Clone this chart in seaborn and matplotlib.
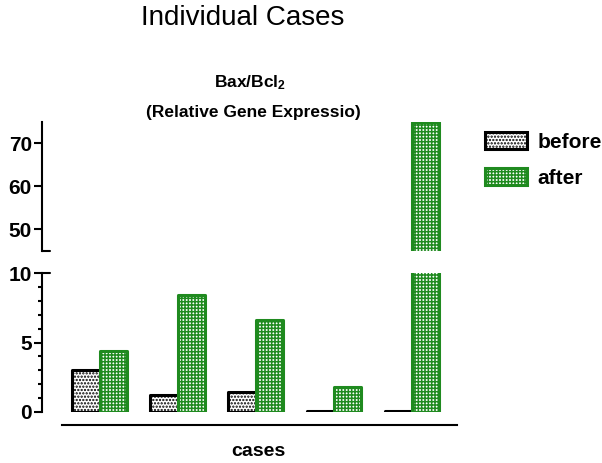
import pandas as pd
import seaborn as sns
import matplotlib.pyplot as plt
from matplotlib.patches import Patch
from matplotlib.ticker import MultipleLocator, FixedLocator

# %% data
cases = ['case 1', 'case 2', 'case 3', 'case 4', 'case 5']
groups = ['before', 'after']
before = [3.0, 1.2, 1.45, 0.05, 0.05]
after = [4.4, 8.45, 6.6, 1.75, 75.0]
top_ticks = [50, 60, 70]
bot_ticks = [0, 5, 10]

df = pd.DataFrame({'case': cases * 2,
                   'time': ['before'] * len(cases) + ['after'] * len(cases),
                   'value': before + after})

green = '#1f8a1f'
styles = {'before': dict(facecolor='white', edgecolor='black', hatch='.....'),
          'after': dict(facecolor='white', edgecolor=green, hatch='+++++')}

sns.set_style('ticks')
plt.rcParams['font.family'] = ['Liberation Sans', 'DejaVu Sans']
plt.rcParams['mathtext.fontset'] = 'custom'
plt.rcParams['mathtext.bf'] = 'Liberation Sans:bold'
plt.rcParams['mathtext.rm'] = 'Liberation Sans'
plt.rcParams['hatch.linewidth'] = 1.1
for key in ['text.color', 'axes.labelcolor', 'xtick.color', 'ytick.color', 'axes.edgecolor']:
    plt.rcParams[key] = 'black'

fig = plt.figure(figsize=(6.02, 4.63), dpi=100)
ax_top = fig.add_axes([0.0703, 0.4579, 0.689, 0.279])
ax_bot = fig.add_axes([0.0703, 0.1108, 0.689, 0.2989])

for ax in (ax_top, ax_bot):
    sns.barplot(data=df, x='case', y='value', hue='time', hue_order=groups,
                width=0.7, ax=ax, legend=False, errorbar=None)
    for grp, bars in zip(groups, ax.containers):
        for bar in bars:
            bar.set(**styles[grp], linewidth=2.2, joinstyle='round')
    ax.set_xlim(-0.732, 4.577)
    ax.set_xlabel('')
    ax.set_ylabel('')
    ax.set_xticks([])
    for side in ['top', 'right']:
        ax.spines[side].set_visible(False)
    ax.spines['left'].set_linewidth(1.5)
    ax.tick_params(axis='y', which='major', length=6, width=1.5, pad=1.5,
                   labelsize=15)
    ax.tick_params(axis='y', which='minor', length=3, width=1.5)

# upper part of the broken axis
ax_top.set_ylim(45, 75)
ax_top.yaxis.set_major_locator(FixedLocator(top_ticks))
ax_top.spines['bottom'].set_visible(False)
ax_top.plot([0, 0.018], [45, 45], color='black', lw=1.5,
            transform=ax_top.get_yaxis_transform(), clip_on=False)

# lower part
ax_bot.set_ylim(0, 10)
ax_bot.yaxis.set_major_locator(FixedLocator(bot_ticks))
ax_bot.yaxis.set_minor_locator(MultipleLocator(1))
ax_bot.spines['bottom'].set_position(('outward', 9.6))
ax_bot.spines['bottom'].set_bounds(-0.48, 4.577)
ax_bot.spines['bottom'].set_linewidth(1.5)
ax_bot.plot([0, 0.018], [10, 10], color='black', lw=1.5,
            transform=ax_bot.get_yaxis_transform(), clip_on=False)
for ax in (ax_top, ax_bot):
    for lab in ax.get_yticklabels():
        lab.set_fontweight('bold')

handles = [Patch(**styles[g], linewidth=2.2) for g in groups]
fig.legend(handles, groups, loc='upper left', bbox_to_anchor=(485 / 602, 1 - 132 / 463),
           frameon=False, prop={'weight': 'bold', 'size': 15}, handlelength=2.0,
           handleheight=0.85, handletextpad=0.5, labelspacing=0.8,
           borderaxespad=0, borderpad=0)

fig.text(243 / 602, 1 - 18 / 463, 'Individual Cases', ha='center', va='center', fontsize=20)
fig.text(250 / 602, 1 - 83 / 463, r'$\mathbf{Bax/Bcl_2}$', ha='center', va='center', fontsize=12.5)
fig.text(253 / 602, 1 - 113 / 463, '(Relative Gene Expressio)', ha='center', va='center',
         fontsize=12.5, fontweight='bold')
fig.text(258 / 602, 1 - 451 / 463, 'cases', ha='center', va='center', fontsize=14,
         fontweight='bold')

fig.savefig('out.png', dpi=100)
